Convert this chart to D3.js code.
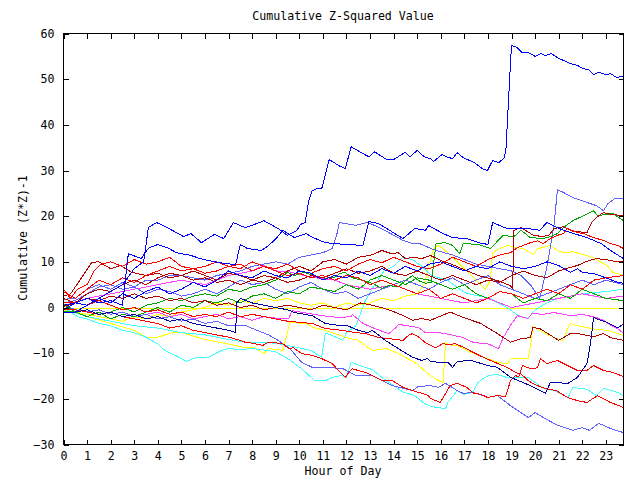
<!DOCTYPE html>
<html><head><meta charset="utf-8">
<script src="https://cdn.jsdelivr.net/npm/d3@7"></script>
<style>
body{margin:0;background:#fff}
text{font-family:"DejaVu Sans Mono","Liberation Mono",monospace;font-size:11.6px;fill:#000}
</style></head>
<body><svg id="chart" width="640" height="480"></svg>
<script>
// ---- tick labels ----
const hourTicks = d3.range(0, 24);
const valueTicks = d3.range(-30, 61, 10);
const xMax = 23.75;

// ---- series: [hour, cumulative value] ----
const sBlueBig = [[0,0.5],[0.5,1],[1,0.5],[1.5,2],[2,3.5],[2.5,5],[3,8.5],[3.4,10],[3.6,17.5],[3.95,18.6],[4.4,17.5],[5.1,15.5],[5.4,16.2],[5.85,14.2],[6.4,16],[6.8,15.1],[7.2,18.6],[7.7,17.5],[8.1,18.2],[8.5,19],[9.1,17.3],[9.5,15.8],[9.9,16.9],[10.05,18.2],[10.25,18.6],[10.4,23.4],[10.55,25.6],[10.75,26],[10.95,26],[11.2,31],[11.27,32.4],[11.7,31],[11.95,30.4],[12.2,35.2],[12.6,34],[12.95,33],[13.2,34.1],[13.7,32.4],[14.0,32.4],[14.5,34],[14.7,33],[15.0,34.4],[15.3,33],[15.56,32.6],[15.7,32],[16.06,33.5],[16.25,33],[16.5,32.6],[16.7,33.9],[16.96,32.8],[17.4,31.8],[17.77,30.4],[17.98,30],[18.2,32.2],[18.45,31.7],[18.7,32.8],[18.77,35],[18.85,43],[18.93,51],[19.0,57.4],[19.21,57],[19.46,55.8],[19.72,55.8],[20.0,55],[20.23,55.6],[20.44,55.2],[20.7,55.6],[20.95,54.7],[21.5,53.4],[21.8,53],[22.05,52.3],[22.26,52.1],[22.47,51],[22.69,51.5],[22.99,51],[23.2,51.2],[23.45,50.4],[23.75,50.6]];
const sBlue2 = [[0,-0.5],[0.5,1],[1,2],[1.5,1],[2,1.5],[2.5,0.5],[2.75,11.8],[3.3,10.7],[3.6,13],[4,13.8],[4.4,13.1],[4.8,12],[5.4,11.4],[5.8,10.7],[6.5,9.9],[6.9,9.6],[7.3,9.4],[7.5,13.8],[7.8,12.9],[8.4,12.5],[8.7,13.6],[9.0,15],[9.3,16.9],[9.8,15.3],[10.3,16.2],[10.5,15.5],[11.1,14.2],[11.5,14],[12.0,13.8],[12.7,13.6],[12.95,18.8],[13.35,18.4],[14.4,15.1],[14.9,17.3],[15.35,16.9],[15.5,18],[15.56,17.7],[16.1,16.2],[16.5,15.3],[17.1,15.1],[17.6,14.2],[18.0,13.8],[18.2,18.6],[18.8,17.3],[19.7,17.3],[20.2,16.9],[20.5,18.6],[21.2,16.9],[22.2,15.3],[22.8,14],[23.2,12.5],[23.75,10.7]];
const sLightBlue1 = [[0,1],[0.5,1.5],[1,3],[1.5,4.5],[2,5],[2.5,4],[3,4.5],[3.5,6],[4,6],[4.5,7],[5,7],[5.5,6.5],[6,6],[6.5,7],[7,7.5],[7.5,8],[8,9],[8.5,9.5],[9,10],[9.5,9.5],[10,11],[10.5,11.5],[11,12],[11.4,12.9],[11.6,16.2],[11.7,18.6],[12.4,18],[12.7,18.4],[12.9,18.6],[13.4,17.5],[13.8,16.4],[14.4,14.7],[14.8,14],[15.1,14],[15.5,13.1],[15.8,12.5],[16.5,11.5],[17,10.5],[17.5,9.5],[18,9],[18.5,8.5],[19,8],[19.4,7],[19.8,5],[20.2,2],[20.5,8.8],[20.8,18],[20.95,25.8],[21.2,25.2],[21.6,24.1],[22.2,23],[22.6,22.3],[22.9,21.2],[23.1,22.8],[23.4,23.9],[23.75,23.9]];
const sDarkRed1 = [[0,2.5],[0.3,3],[0.7,6],[1.2,9.9],[1.5,10],[2,8.5],[2.4,9.2],[2.9,7.7],[3.5,7],[4,7.5],[4.5,6.5],[5,7],[5.5,6],[6,6.5],[6.5,5.5],[7,6],[7.5,5],[8,6],[8.5,7],[9,6.5],[9.5,8],[10,9],[10.5,8],[11,10],[11.5,10.5],[12,9.5],[12.5,11],[13,11.4],[13.3,12],[13.5,12.5],[13.9,11.8],[14.2,12],[14.5,10.7],[14.8,11],[15.2,10.7],[15.56,11.4],[16,10.3],[16.4,9.6],[16.9,8.5],[17.6,7],[18.4,5.9],[18.95,4.8],[19.05,4.2],[19.1,16.9],[19.4,17.5],[19.9,15.9],[20.3,15.5],[20.6,15.9],[20.8,17.3],[21.2,17.7],[21.6,16.7],[22.2,16.4],[22.4,18.6],[22.6,19.7],[22.9,20.8],[23.2,20.4],[23.75,20.1]];
const sGreen1 = [[0,-0.8],[0.5,-1],[1,-0.5],[1.5,-1.5],[2,-1],[2.5,0],[3,-1],[3.5,0.5],[4,1],[4.5,2],[5,1.5],[5.5,2.5],[6,3],[6.5,2.5],[7,4],[7.5,3.5],[8,4.5],[8.5,5],[9,6],[9.5,7.7],[9.8,7],[10.2,7.7],[10.6,7],[11.1,6.4],[11.5,6.6],[11.7,7.4],[11.95,7.7],[12.2,6.6],[12.7,5.9],[13.1,5.3],[13.5,4.2],[13.8,4.8],[14.2,4.5],[14.5,5.9],[14.8,7],[15.05,5.9],[15.35,5.3],[15.6,5.5],[15.8,14],[16.2,14.2],[16.5,13.6],[16.8,11.8],[16.95,14],[17.6,13.8],[18.1,12.9],[18.65,15.8],[19.1,15.5],[19.4,16.9],[19.8,15.3],[20.35,15.1],[20.65,15.5],[20.95,16.2],[21.2,17.5],[21.6,19],[22.05,20.1],[22.47,21.2],[22.65,20.1],[23.3,20.6],[23.75,19]];
const sRed1 = [[0,3.5],[0.5,2],[1,4],[1.5,6],[2,5],[2.5,6.5],[3,5.5],[3.5,7],[4,8],[4.5,9],[5,8],[5.5,8.5],[6,7.5],[6.5,8],[7,9],[7.5,8.5],[8,10],[8.5,9],[9,8.5],[9.5,9.5],[10,8],[10.5,7.5],[11,8.5],[11.5,9],[12,8],[12.5,9.5],[13,10.5],[13.5,9.8],[14,11],[14.5,10],[15,9],[15.5,8.5],[16,9.5],[16.5,11],[17,10],[17.5,9],[18,10.5],[18.5,11.5],[18.96,12],[19.25,13.1],[19.8,14.2],[20.1,14.6],[20.35,14],[20.65,15.1],[20.95,15.8],[21.2,16.2],[21.37,17.3],[21.8,16.4],[22.05,16.2],[22.48,15.3],[22.9,14.7],[23.2,14],[23.5,13.6],[23.75,12.9]];
const sDarkRed2 = [[0,0.2],[0.5,1],[1,3],[1.5,4],[2,3.5],[2.5,5],[3,6],[3.5,5],[4,6.5],[4.5,7.5],[5,7],[5.5,8],[6,7],[6.5,6],[7,7.5],[7.5,7],[8,6],[8.5,5.5],[9,6.5],[9.5,5.5],[10,6],[10.5,7],[11,6.5],[11.5,7.5],[12,8.5],[12.5,7.5],[13,8],[13.5,9],[14,7.5],[14.5,7],[15,8],[15.5,7],[16,6],[16.5,7],[17,6],[17.5,5],[18,6],[18.5,5.5],[19,7],[19.5,8],[20,7],[20.5,6.5],[21,8],[21.5,8.8],[21.8,9.2],[22.05,9.8],[22.3,10.3],[22.6,10.7],[23,10.5],[23.4,10.1],[23.75,10]];
const sYellow1 = [[0,-0.6],[0.5,-1],[1,-1.5],[1.5,-2],[2,-2.5],[2.5,-3],[3,-2],[3.5,-2.5],[4,-1.5],[4.5,-2],[5,-1],[5.5,-0.5],[6,0],[6.5,1],[7,0.5],[7.5,1.5],[8,1],[8.5,2],[9,1.5],[9.5,2],[10,1],[10.5,0.5],[11,1],[11.5,0],[12,1],[12.5,0.5],[13,1],[13.5,2],[14,1.5],[14.5,2.5],[15,3],[15.3,5],[15.5,9.2],[15.7,12.9],[15.9,13.6],[16.3,12],[16.7,10],[17.1,8],[17.5,6],[17.9,4],[18.1,6],[18.2,12],[18.5,12.9],[18.85,13.6],[19.2,13.1],[19.5,12.9],[19.8,12],[19.95,11.6],[20.1,12.9],[20.4,13.2],[20.65,13.6],[20.95,12.5],[21.2,12],[21.6,12.2],[22.05,11.6],[22.48,10.9],[22.8,9.9],[23.05,9.2],[23.3,7.7],[23.5,7.4],[23.75,7]];
const sBlue3 = [[0,-1],[0.5,-1],[1,0.5],[1.5,2],[2,1],[2.5,3],[3,2],[3.5,3.5],[4,4.5],[4.5,3],[5,4],[5.5,5.5],[6,4.5],[6.5,6],[7,8],[7.5,7],[8,6.5],[8.5,8],[9,7],[9.5,6.5],[10,8],[10.5,7.5],[11,6],[11.5,7],[12,6.5],[12.5,8],[13,7],[13.5,8.5],[14,7.5],[14.5,9],[15,8],[15.5,9.5],[16,10],[16.5,9],[17,8],[17.5,9],[18,8.5],[18.5,10],[19,9],[19.5,8.5],[20,9],[20.5,10],[21,9.2],[21.5,7.7],[21.8,8.5],[22,7.7],[22.5,7.4],[23,6.5],[23.5,5.5],[23.75,5.3]];
const sLightBlue2 = [[0,1.8],[0.5,2],[1,4],[1.5,5],[2,4],[2.5,5.5],[3,4.5],[3.5,3],[4,4],[4.5,3.5],[5,2.5],[5.5,3],[6,4],[6.5,3],[7,4.5],[7.5,6],[8,5],[8.5,5.5],[9,4],[9.5,3],[10,4.5],[10.5,5.5],[11,4],[11.5,3],[12,3.5],[12.5,2],[13,3],[13.5,4],[14,5],[14.5,6],[15,5],[15.5,4],[16,5.5],[16.5,6.5],[17,5],[17.5,6],[18,7],[18.5,5],[19,4],[19.5,3],[20,2],[20.5,3],[21,4],[21.5,5],[22,6],[22.5,5],[23,6],[23.75,5]];
const sGreen2 = [[0,0.8],[0.5,-1],[1,-2],[1.5,-1],[2,-2.5],[2.5,-1.5],[3,-2],[3.5,-1],[4,0],[4.5,-1],[5,0.5],[5.5,0],[6,1.5],[6.5,1],[7,2],[7.5,1],[8,2.5],[8.5,3],[9,2],[9.5,3.5],[10,3],[10.5,4.5],[11,4],[11.5,3.5],[12,5],[12.5,4],[13,6],[13.5,7],[14,6],[14.5,5],[15,6.5],[15.5,6],[16,5],[16.5,4],[17,5],[17.5,3],[18,2],[18.5,3.5],[19,3],[19.5,1],[20,2],[20.5,1.5],[21,3],[21.5,2],[22,4],[22.5,3],[23,2],[23.75,1.5]];
const sRed2 = [[0,4],[0.3,2],[0.6,4],[1,5],[1.3,8],[1.6,9.5],[2,10],[2.5,9],[3,10.5],[3.5,9.5],[4,10],[4.5,11],[5,9],[5.5,8.5],[6,9],[6.5,10],[7,9],[7.5,9.5],[8,8],[8.5,9],[9,8],[9.5,7],[10,7.5],[10.5,6.5],[11,7],[11.5,6],[12,7],[12.5,6.5],[13,5],[13.5,6],[14,5],[14.5,4],[15,3],[15.5,4],[16,2],[16.5,3],[17,2],[17.5,1],[18,2],[18.5,3.5],[19,3],[19.5,2],[20,3],[20.5,4],[21,3],[21.5,5],[22,4],[22.5,6],[23,6.5],[23.75,7]];
const sMagenta2 = [[0,0.4],[1,2],[2,3],[3,4],[4,5],[5,6],[6,5],[7,7],[8,8],[8.5,9.2],[9,8],[9.5,7.9],[10.2,7],[10.7,6.5],[11.5,6],[12,5],[13,4],[14,5],[15,3],[16,2],[17,1],[18,2],[19,0],[20,1],[21,2],[22,3],[23,2],[23.75,2.5]];
const sCyanB = [[0,-0.3],[1,-2],[2,-3],[3,-4],[4,-4.5],[5,-5.5],[6,-6],[7,-7],[7.7,-7.6],[9,-7.8],[9.5,-8.3],[10.5,-9.4],[10.95,-10.9],[11.1,-5.7],[11.3,-5.9],[11.85,-7.2],[12,-5.5],[12.4,-4],[12.8,1.5],[13.2,5],[13.6,8],[14,9],[14.4,11],[14.8,10.5],[15.2,9],[15.6,7],[16.3,5.9],[17,3.3],[17.5,2.6],[18,2.2],[18.4,1.1],[18.8,0],[19.3,-1.8],[19.7,-2.4],[20,-0.5],[20.5,1],[21,2],[22,3],[23,3.5],[23.75,4]];
const sLightBlueLow = [[0,0.6],[0.5,-0.5],[1,-1],[1.5,-0.5],[2,-1.5],[2.5,-1],[3,-2],[3.5,-1.5],[4,-2.5],[4.5,-2],[5,-3],[5.5,-2.5],[6,-3.5],[6.5,-3],[7,-4],[7.7,-3.9],[8.2,-5],[8.7,-6],[9.1,-7.2],[9.6,-9],[10.1,-12],[10.55,-13.1],[11.2,-13.1],[11.85,-13.4],[12.4,-14.9],[13.1,-14.9],[13.95,-17.1],[14.8,-18.2],[15.05,-17.3],[15.56,-17.1],[15.9,-17.5],[16.2,-16.6],[16.7,-18.2],[16.96,-18.8],[17.4,-18.6],[18.0,-19.7],[18.4,-19.3],[18.96,-21.5],[19.72,-24.1],[20.0,-23],[20.35,-24.1],[20.95,-25.8],[21.6,-26.9],[22.0,-26.3],[22.3,-26.9],[22.69,-25.4],[22.9,-25.8],[23.2,-26.5],[23.75,-27.4]];
const sCyanA = [[0,-0.9],[0.3,-1],[0.6,-2],[1,-2.5],[1.5,-3.5],[2,-4],[2.5,-5],[3,-5.5],[3.5,-6.5],[4,-8],[4.3,-9.4],[4.9,-10.9],[5.2,-11.8],[5.6,-11],[6.1,-11],[6.3,-10.5],[6.7,-9.4],[7.0,-9],[7.5,-9.2],[8.0,-9],[8.5,-9.3],[9.0,-9.7],[9.1,-10],[9.6,-11.5],[10.1,-13.4],[10.65,-16],[11.1,-16],[11.4,-15.3],[11.8,-14.9],[12.0,-15.3],[12.2,-12],[12.5,-12.6],[12.8,-13.1],[13.1,-13.6],[13.5,-15.3],[14.0,-17.1],[14.4,-18.5],[14.9,-19.3],[15.3,-21],[15.6,-21.7],[15.9,-21.9],[16.2,-22.2],[16.3,-20.8],[16.7,-18.2],[16.96,-19],[17.35,-18.6],[17.55,-16.6],[17.8,-15.5],[18.1,-14.8],[18.4,-14.7],[18.8,-15.3],[19.7,-15.3],[20.35,-17.7],[20.87,-18.3],[21.4,-19.7],[21.6,-17.5],[22.2,-17.9],[22.6,-19.3],[22.9,-17.7],[23.5,-18.6],[23.75,-19.3]];
const sRedA = [[0,-0.4],[0.5,-0.5],[1,-1],[1.5,-1.5],[2,-1],[2.5,-2],[3,-2.5],[3.5,-3],[4,-3.5],[4.5,-4.5],[5,-4],[5.5,-5],[6,-5.5],[6.5,-6],[7,-6.5],[7.5,-7.2],[7.7,-7.6],[8.1,-7.9],[8.45,-8.3],[8.7,-7.6],[9.3,-7.9],[9.55,-9],[9.75,-8.8],[10.1,-10.1],[10.55,-10.5],[10.95,-11.2],[11.4,-12.3],[11.66,-13.8],[11.96,-15.3],[12.1,-14.2],[12.25,-13.4],[12.5,-13.8],[12.8,-14.2],[13.1,-14.9],[13.5,-16],[13.95,-16],[14.4,-17.5],[14.8,-18.2],[15.2,-18.8],[15.48,-19.3],[15.56,-19.9],[15.98,-20.8],[16.4,-17.1],[16.7,-16.6],[17.1,-17.5],[17.4,-18.8],[17.7,-19],[17.98,-19.7],[18.4,-19.3],[18.75,-19.5],[18.96,-16],[19.17,-14.9],[19.3,-15.2],[19.47,-12.7],[19.8,-13.4],[20.1,-13.2],[20.23,-11.2],[20.5,-12.3],[20.95,-11.6],[21.37,-12.7],[21.8,-13.8],[22.2,-13.8],[22.48,-12.7],[22.9,-13.8],[23.28,-14.2],[23.75,-15.1]];
const sRedB = [[0,1.2],[0.5,1],[1,0.5],[1.5,1.5],[2,0.5],[2.5,-0.5],[3,0],[3.5,-1],[4,-0.5],[4.5,-1.5],[5,-1],[5.5,-2],[6,-1.5],[6.5,-2],[7,-1],[7.5,-2],[8,-1.5],[8.5,-2],[9,-2.5],[9.5,-3],[10.1,-3.3],[10.55,-3.5],[11.1,-4.6],[11.8,-5],[12.4,-5.5],[12.8,-5.7],[13.4,-6.6],[13.8,-6.8],[14.4,-7.2],[14.63,-6.1],[14.8,-5.7],[15.05,-6.4],[15.35,-7.7],[15.78,-8.8],[16.1,-7.9],[16.4,-8.2],[16.6,-7.9],[17.0,-8.8],[17.4,-9.9],[17.8,-10.9],[18.2,-11.8],[18.8,-13.1],[19.2,-14.3],[19.4,-14.5],[19.7,-16],[20.0,-16.9],[20.4,-17.7],[20.9,-18.2],[21.37,-19.7],[21.8,-20.4],[22.2,-20.8],[22.65,-19.3],[23.2,-20.8],[23.75,-21.9]];
const sNavy = [[0,-1.2],[0.5,-1],[1,-0.5],[1.5,-1.5],[2,-1],[2.5,-2],[3,-1.5],[3.5,-2.5],[4,-2],[4.5,-3],[5,-2.5],[5.5,-3.5],[6,-4],[6.5,-4.5],[7,-5],[7.3,-5.5],[7.35,1],[7.5,2],[8,1],[8.5,0.5],[9,0],[9.5,-0.5],[9.8,-1.1],[10.55,-1.8],[11.1,-3.5],[11.66,-3.9],[12.0,-3.9],[12.5,-5],[12.9,-5.5],[13.1,-5],[13.65,-7.2],[14.2,-9],[14.8,-10.9],[15.2,-11.6],[15.44,-11.2],[15.56,-11.8],[15.9,-12],[16.3,-12],[16.5,-13.1],[16.7,-11.8],[17.3,-11.6],[17.98,-12.7],[18.4,-13.1],[18.96,-15.3],[19.8,-17.1],[20.44,-18.8],[20.65,-16.4],[21.4,-16.6],[21.8,-15.3],[22.05,-13.4],[22.2,-12.3],[22.35,-7.9],[22.48,-2.2],[22.77,-2.8],[23.07,-3.3],[23.28,-3.9],[23.5,-4.4],[23.75,-3.7]];
const sDarkRed3 = [[0,2],[0.5,1],[1,2],[1.5,1.5],[2,2.5],[2.5,2],[3,3],[3.5,2],[4,2.5],[4.5,1.5],[5,2],[5.5,1],[6,1.5],[6.5,0.5],[7,1],[7.5,0],[8,0.5],[8.5,-0.5],[9,0],[9.5,0.5],[10,0],[10.5,-0.5],[11,0.5],[11.5,0],[12,-0.5],[12.6,1],[13.1,0.5],[13.6,-0.2],[14.1,-1.1],[14.5,-2],[14.8,-2.8],[15.2,-2.4],[15.56,-2.8],[16.4,-1],[16.96,-2.2],[17.7,-3.5],[18.4,-5.7],[18.96,-7.6],[19.4,-6.8],[19.8,-6.6],[19.9,-4.4],[20.2,-4.6],[21.0,-7.2],[21.5,-5.7],[21.9,-5.8],[22.48,-6.4],[22.9,-5.7],[23.2,-6.6],[23.75,-7.2]];
const sYellow2 = [[0,0.3],[1,-2],[2,-3.5],[3,-5],[3.5,-6.5],[4,-6.5],[4.6,-5.5],[5,-5.5],[6,-7],[7,-8],[7.7,-8.8],[8.1,-8.8],[8.5,-10.1],[8.7,-9],[9.3,-9.4],[9.6,-3.3],[10.3,-3.5],[10.6,-4.4],[11.1,-5],[11.5,-5.7],[12,-6.6],[12.5,-7.2],[13.1,-9.4],[13.7,-9],[14.2,-10.1],[14.6,-11.2],[14.9,-12],[15.3,-13.8],[15.56,-14.9],[15.9,-16],[16.1,-16.4],[16.2,-7.7],[16.4,-8.2],[16.7,-8.3],[17.1,-9.4],[17.6,-10.5],[18,-11.2],[18.4,-12],[18.8,-12.3],[19.0,-11.2],[19.4,-11.2],[19.7,-11.2],[19.8,-8.8],[19.9,-4.2],[20.2,-5],[20.6,-6.1],[20.9,-6.8],[21.2,-7.2],[21.4,-4.4],[21.5,-3.5],[21.8,-4],[22.2,-4.4],[22.6,-4.8],[23.1,-5],[23.5,-5.7],[23.75,-6.1]];
const sMagenta1 = [[0,-0.2],[0.5,-0.5],[1,-1],[1.5,-0.5],[2,-1.5],[2.5,-1],[3,-2],[3.5,-1.5],[4,-1],[4.5,-2],[5,-1.5],[5.5,-2.5],[6,-2],[6.5,-1.5],[7,-2.5],[7.5,-2],[8,-2.8],[8.5,-2],[9.1,-2.4],[9.55,-2.4],[9.7,-0.7],[10.4,-1.3],[11,-1.8],[11.66,-2.2],[12.2,-2],[12.25,-1.5],[12.7,-3.5],[13.1,-4.4],[13.4,-5],[13.8,-5.7],[14.1,-4.4],[14.2,-3.7],[14.6,-4],[15.05,-4.4],[15.35,-5.5],[15.56,-5.5],[16.1,-5.6],[16.96,-6.6],[17.4,-7.7],[17.98,-7.9],[18.45,-9],[18.65,-6.6],[18.96,-3.9],[19.25,-1.8],[19.68,-2.4],[19.9,-1.3],[20.35,-1.5],[20.8,-1.1],[21.5,-1.8],[22.0,-1.5],[22.6,-2.2],[22.9,-2.8],[23.2,-3.9],[23.5,-4.6],[23.75,-5.7]];

// ---- colours (style, kept apart from the data) ----
const palette = {red:"#ff0000", darkred:"#b00000", green:"#00a800", blue:"#0000ff", navy:"#0000a0",
                 slate:"#6060ff", magenta:"#ff40ff", cyan:"#40ffff", yellow:"#ffff00"};
const seriesList = [
  {d:sYellow1, c:"yellow"}, {d:sYellow2, c:"yellow"},
  {d:sCyanA, c:"cyan"}, {d:sCyanB, c:"cyan"},
  {d:sMagenta1, c:"magenta"}, {d:sMagenta2, c:"magenta"},
  {d:sLightBlueLow, c:"slate"}, {d:sLightBlue2, c:"slate"}, {d:sLightBlue1, c:"slate"},
  {d:sGreen2, c:"green"}, {d:sGreen1, c:"green"},
  {d:sDarkRed3, c:"darkred"}, {d:sDarkRed2, c:"darkred"}, {d:sDarkRed1, c:"darkred"},
  {d:sRedA, c:"red"}, {d:sRedB, c:"red"}, {d:sRed2, c:"red"}, {d:sRed1, c:"red"},
  {d:sNavy, c:"navy"}, {d:sBlue3, c:"blue"}, {d:sBlue2, c:"blue"}, {d:sBlueBig, c:"blue"}
];

const svg = d3.select("#chart");
svg.append("rect").attr("width",640).attr("height",480).attr("fill","#fff");
const L=63.5, R=623.5, T=33.5, B=444.5;
const x = d3.scaleLinear().domain([0,xMax]).range([L,R]);
const y = d3.scaleLinear().domain([-30,60]).range([B,T]);

const plot = svg.append("g");
// zero line
plot.append("line").attr("x1",x(0)).attr("x2",x(xMax)).attr("y1",Math.round(y(0))+0.5).attr("y2",Math.round(y(0))+0.5)
  .attr("stroke",palette.yellow).attr("stroke-width",1).attr("shape-rendering","crispEdges");

const line = d3.line().x(d=>x(d[0])).y(d=>y(d[1]));
plot.selectAll("path.s").data(seriesList).join("path").attr("class","s")
  .attr("d",s=>line(s.d)).attr("fill","none").attr("stroke",s=>palette[s.c])
  .attr("stroke-width",1).attr("shape-rendering","crispEdges");

// axes (ticks inward, mirrored)
const fmt = d3.format("d");
const ax = svg.append("g");
ax.append("g").attr("transform",`translate(0,${B})`)
  .call(d3.axisBottom(x).tickValues(hourTicks).tickSize(-5).tickSizeOuter(0).tickPadding(7).tickFormat(fmt));
ax.append("g").attr("transform",`translate(0,${T})`)
  .call(d3.axisTop(x).tickValues(hourTicks).tickSize(-5).tickSizeOuter(0).tickFormat(""));
ax.append("g").attr("transform",`translate(${L},0)`)
  .call(d3.axisLeft(y).tickValues(valueTicks).tickSize(-5).tickSizeOuter(0).tickPadding(9).tickFormat(fmt));
ax.append("g").attr("transform",`translate(${R},0)`)
  .call(d3.axisRight(y).tickValues(valueTicks).tickSize(-5).tickSizeOuter(0).tickFormat(""));
ax.selectAll(".domain").remove();
ax.selectAll("line").attr("stroke","#000").attr("shape-rendering","crispEdges");
ax.selectAll("text").attr("fill","#000").style("font-family",'"DejaVu Sans Mono",monospace').style("font-size","11.6px");
svg.append("rect").attr("x",L).attr("y",T).attr("width",R-L).attr("height",B-T)
  .attr("fill","none").attr("stroke","#000").attr("stroke-width",1).attr("shape-rendering","crispEdges");

// titles
svg.append("text").attr("x",343).attr("y",20).attr("text-anchor","middle").text("Cumulative Z-Squared Value");
svg.append("text").attr("x",343).attr("y",475).attr("text-anchor","middle").text("Hour of Day");
svg.append("text").attr("transform","translate(27,238) rotate(-90)").attr("text-anchor","middle").text("Cumulative (Z*Z)-1");
</script></body></html>
